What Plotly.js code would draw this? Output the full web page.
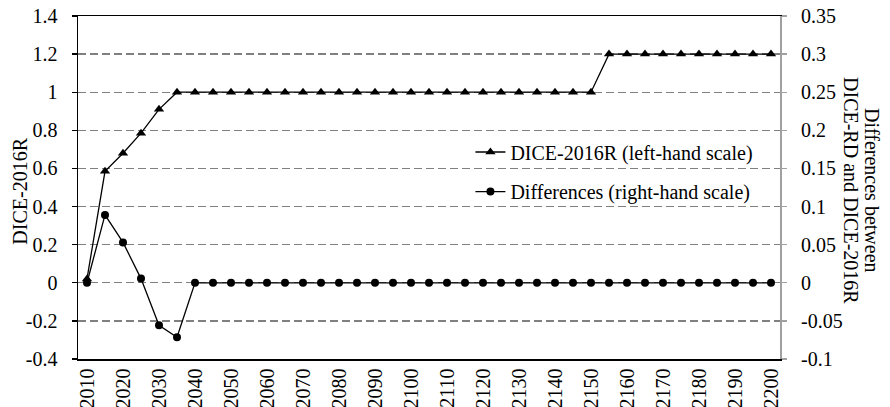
<!DOCTYPE html>
<html>
<head>
<meta charset="utf-8">
<script src="https://cdn.plot.ly/plotly-3.0.1.min.js"></script>
<style>
html,body{margin:0;padding:0;background:#fff;}
#chart{width:890px;height:407px;}
#chart text{font-family:'Liberation Serif' !important;}
</style>
</head>
<body>
<div id="chart"></div>
<script>
// Categories (years)
const years = [2010, 2015, 2020, 2025, 2030, 2035, 2040, 2045, 2050, 2055,
               2060, 2065, 2070, 2075, 2080, 2085, 2090, 2095, 2100, 2105,
               2110, 2115, 2120, 2125, 2130, 2135, 2140, 2145, 2150, 2155,
               2160, 2165, 2170, 2175, 2180, 2185, 2190, 2195, 2200];
// DICE-2016R (left-hand scale)
const dice2016R = [0.02, 0.585, 0.68, 0.785, 0.91, 1.0, 1.0, 1.0, 1.0, 1.0,
                   1.0, 1.0, 1.0, 1.0, 1.0, 1.0, 1.0, 1.0, 1.0, 1.0,
                   1.0, 1.0, 1.0, 1.0, 1.0, 1.0, 1.0, 1.0, 1.0, 1.2,
                   1.2, 1.2, 1.2, 1.2, 1.2, 1.2, 1.2, 1.2, 1.2];
// Differences between DICE-RD and DICE-2016R (right-hand scale)
const differences = [0.0, 0.089, 0.053, 0.0055, -0.0557, -0.0714, 0, 0, 0, 0,
                     0, 0, 0, 0, 0, 0, 0, 0, 0, 0,
                     0, 0, 0, 0, 0, 0, 0, 0, 0, 0,
                     0, 0, 0, 0, 0, 0, 0, 0, 0];
// Tick labels
const xTickLabels = ['2010','2020','2030','2040','2050','2060','2070','2080','2090','2100',
                     '2110','2120','2130','2140','2150','2160','2170','2180','2190','2200'];
const xTickVals = [2010,2020,2030,2040,2050,2060,2070,2080,2090,2100,
                   2110,2120,2130,2140,2150,2160,2170,2180,2190,2200];
const xBoundaryTicks = [2012.5,2017.5,2022.5,2027.5,2032.5,2037.5,2042.5,2047.5,2052.5,2057.5,
                        2062.5,2067.5,2072.5,2077.5,2082.5,2087.5,2092.5,2097.5,2102.5,2107.5,
                        2112.5,2117.5,2122.5,2127.5,2132.5,2137.5,2142.5,2147.5,2152.5,2157.5,
                        2162.5,2167.5,2172.5,2177.5,2182.5,2187.5,2192.5,2197.5];
const leftTickVals = [-0.4,-0.2,0,0.2,0.4,0.6,0.8,1,1.2,1.4];
const leftTickText = ['-0.4','-0.2','0','0.2','0.4','0.6','0.8','1','1.2','1.4'];
const rightTickVals = [-0.1,-0.05,0,0.05,0.1,0.15,0.2,0.25,0.3,0.35];
const rightTickText = ['-0.1','-0.05','0','0.05','0.1','0.15','0.2','0.25','0.3','0.35'];

const FONT = 'Liberation Serif';
const FS = 20;
const xRange = [2007.5, 2202.5];

const traces = [
  {
    x: years, y: dice2016R, type: 'scatter', mode: 'lines+markers',
    name: 'DICE-2016R (left-hand scale)',
    line: {color: '#000', width: 1.3},
    marker: {symbol: 'triangle-up', size: 9, color: '#000'},
    xaxis: 'x', yaxis: 'y', legend: 'legend'
  },
  {
    x: years, y: differences, type: 'scatter', mode: 'lines+markers',
    name: 'Differences (right-hand scale)',
    line: {color: '#000', width: 1.3},
    marker: {symbol: 'circle', size: 8, color: '#000'},
    xaxis: 'x', yaxis: 'y2', legend: 'legend2'
  }
];

const layout = {
  width: 890, height: 407,
  margin: {l: 78, r: 110, t: 16, b: 48, pad: 0},
  paper_bgcolor: '#fff', plot_bgcolor: '#fff',
  font: {family: FONT, size: FS, color: '#000'},
  showlegend: true,
  xaxis: {
    range: xRange, tickmode: 'array', tickvals: xTickVals, ticktext: xTickLabels,
    tickangle: -90, ticks: '', ticklen: 0, showgrid: false, zeroline: false,
    showline: true, linecolor: '#000', linewidth: 1.5, mirror: true,
    tickfont: {family: FONT, size: FS, color: '#000'}, automargin: false
  },
  xaxis2: {
    overlaying: 'x', anchor: 'free', position: 0.2222, side: 'bottom',
    range: xRange, tickmode: 'array', tickvals: xBoundaryTicks,
    ticks: 'outside', ticklen: 5, tickwidth: 1.3, tickcolor: '#000',
    showticklabels: false, showgrid: false, zeroline: false,
    showline: true, linecolor: '#000', linewidth: 1.5
  },
  yaxis: {
    range: [-0.4, 1.4], tickmode: 'array', tickvals: leftTickVals, ticktext: leftTickText,
    ticks: 'outside', ticklen: 5, tickwidth: 1.3, tickcolor: '#000',
    showline: true, linecolor: '#000', linewidth: 1.5,
    showgrid: true, gridcolor: '#808080', gridwidth: 1.3, griddash: '8px,4px',
    zeroline: false, ticklabelstandoff: 10,
    tickfont: {family: FONT, size: FS, color: '#000'}, automargin: false
  },
  yaxis2: {
    overlaying: 'y', side: 'right', anchor: 'x',
    range: [-0.1, 0.35], tickmode: 'array', tickvals: rightTickVals, ticktext: rightTickText,
    ticks: 'outside', ticklen: 5, tickwidth: 1.3, tickcolor: '#a0a0a0',
    showline: true, linecolor: '#a0a0a0', linewidth: 2,
    showgrid: false, zeroline: false, ticklabelstandoff: 10,
    tickfont: {family: FONT, size: FS, color: '#000'}, automargin: false
  },
  legend: {
    x: 0.559, y: 0.6035, xanchor: 'left', yanchor: 'middle',
    bgcolor: 'rgba(0,0,0,0)', borderwidth: 0,
    font: {family: FONT, size: FS, color: '#000'}
  },
  legend2: {
    x: 0.559, y: 0.488, xanchor: 'left', yanchor: 'middle',
    bgcolor: 'rgba(0,0,0,0)', borderwidth: 0,
    font: {family: FONT, size: FS, color: '#000'}
  },
  annotations: [
    {
      text: 'DICE-2016R', xref: 'paper', yref: 'paper', x: -0.083, y: 0.49,
      xanchor: 'center', yanchor: 'middle', textangle: -90, showarrow: false,
      font: {family: FONT, size: FS, color: '#000'}
    },
    {
      text: 'Differences between', xref: 'paper', yref: 'paper',
      x: 1.131, y: 0.49, xanchor: 'center', yanchor: 'middle', textangle: 90, showarrow: false,
      font: {family: FONT, size: FS, color: '#000'}
    },
    {
      text: 'DICE-RD and DICE-2016R', xref: 'paper', yref: 'paper',
      x: 1.101, y: 0.49, xanchor: 'center', yanchor: 'middle', textangle: 90, showarrow: false,
      font: {family: FONT, size: FS, color: '#000'}
    }
  ]
};

Plotly.newPlot('chart', traces, layout, {displayModeBar: false, staticPlot: true});
</script>
</body>
</html>
